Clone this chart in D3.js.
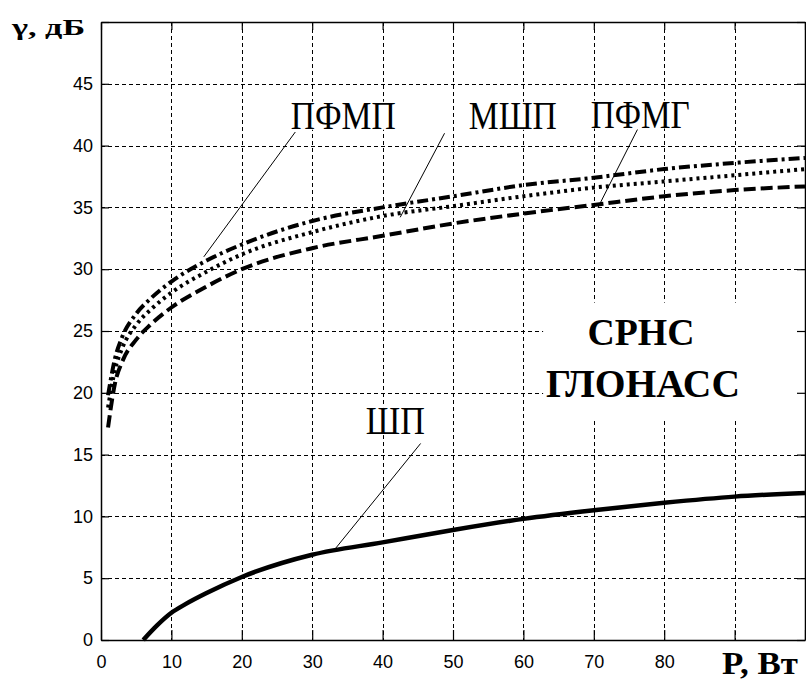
<!DOCTYPE html>
<html>
<head>
<meta charset="utf-8">
<script src="https://cdn.jsdelivr.net/npm/d3@7"></script>
<style>
  body { margin: 0; background: #fff; }
  svg { display: block; }
</style>
</head>
<body>
<script>
// data
var powerUpper = [1, 2, 3, 5, 7, 10, 15, 20, 30, 40, 50, 60, 70, 80, 90, 100];
var pfmp = [19.8, 22.8, 24.5, 26.4, 27.6, 29.0, 30.7, 32.0, 33.9, 35.0, 35.9, 36.8, 37.4, 38.1, 38.6, 39.0];
var mshp = [18.8, 21.9, 23.6, 25.5, 26.7, 28.1, 29.8, 31.2, 33.0, 34.3, 35.1, 35.9, 36.6, 37.1, 37.6, 38.1];
var pfmg = [17.2, 20.8, 22.5, 24.3, 25.5, 26.9, 28.6, 30.0, 31.7, 32.7, 33.7, 34.5, 35.2, 35.9, 36.4, 36.7];
var powerLower = [6, 8, 10, 12, 15, 20, 30, 40, 50, 60, 70, 80, 90, 100];
var shp = [0, 1.2, 2.2, 2.9, 3.8, 5.1, 6.9, 7.9, 8.9, 9.8, 10.5, 11.1, 11.6, 11.9];
var xTicks = [0, 10, 20, 30, 40, 50, 60, 70, 80, 90, 100];
var xTickLabels = ["0", "10", "20", "30", "40", "50", "60", "70", "80", "", ""];
var yTicks = [0, 5, 10, 15, 20, 25, 30, 35, 40, 45, 50];
var yTickLabels = ["0", "5", "10", "15", "20", "25", "30", "35", "40", "45", ""];

var W = 806, H = 682;
var pl = 101, pt = 22, pr = 805, pb = 640;

var svg = d3.select("body").append("svg").attr("width", W).attr("height", H);

var x = d3.scaleLinear().domain([0, 100]).range([pl, pr]);
var y = d3.scaleLinear().domain([0, 50]).range([pb, pt]);

// grid
var grid = svg.append("g").attr("stroke", "#000").attr("stroke-width", 1)
    .attr("stroke-dasharray", "4,3").attr("shape-rendering", "crispEdges");
grid.selectAll("line.vx").data(xTicks.slice(1, -1)).enter().append("line")
    .attr("x1", function(d) { return Math.round(x(d)) + 0.5; })
    .attr("x2", function(d) { return Math.round(x(d)) + 0.5; })
    .attr("y1", pt).attr("y2", pb);
grid.selectAll("line.hy").data(yTicks.slice(1, -1)).enter().append("line")
    .attr("y1", function(d) { return Math.round(y(d)) + 0.5; })
    .attr("y2", function(d) { return Math.round(y(d)) + 0.5; })
    .attr("x1", pl).attr("x2", pr);

// white patch behind the system name
svg.append("rect").attr("x", x(62.8)).attr("y", y(27.3))
    .attr("width", pr - x(62.8)).attr("height", y(17.8) - y(27.3)).attr("fill", "#fff");

// curves
var line = d3.line().curve(d3.curveMonotoneX);
function draw(px, vals, dash, w) {
    svg.append("path")
        .attr("d", line(px.map(function(p, i) { return [x(p), y(vals[i])]; })))
        .attr("fill", "none").attr("stroke", "#000").attr("stroke-width", w)
        .attr("stroke-dasharray", dash);
}
draw(powerUpper, pfmg, "12,5", 4);
draw(powerUpper, mshp, "3,4", 4);
draw(powerUpper, pfmp, "11,4,3,4", 4);
draw(powerLower, shp, null, 4.5);

// axes (box with inward ticks)
svg.append("g").attr("transform", "translate(0," + pb + ")")
    .call(d3.axisBottom(x).tickValues(xTicks).tickSizeInner(-10).tickSizeOuter(0)
        .tickPadding(15).tickFormat(function(d, i) { return xTickLabels[i]; }));
svg.append("g").attr("transform", "translate(0," + pt + ")")
    .call(d3.axisTop(x).tickValues(xTicks).tickSizeInner(-8).tickSizeOuter(0).tickFormat(""));
svg.append("g").attr("transform", "translate(" + pl + ",0)")
    .call(d3.axisLeft(y).tickValues(yTicks).tickSizeInner(-8).tickSizeOuter(0)
        .tickPadding(8).tickFormat(function(d, i) { return yTickLabels[i]; }));
svg.append("g").attr("transform", "translate(" + pr + ",0)")
    .call(d3.axisRight(y).tickValues(yTicks).tickSizeInner(-8).tickSizeOuter(0).tickFormat(""));
svg.selectAll(".domain").attr("stroke", "#000").attr("stroke-width", 1.5);
svg.selectAll(".tick line").attr("stroke", "#000").attr("stroke-width", 1.2);
svg.selectAll(".tick text").attr("fill", "#000")
    .style("font-family", "'Liberation Sans', Arial, sans-serif").style("font-size", "18px");

// pointer lines and curve names
var notes = [
    { t: "ПФМП", tx: 34.4, ty: 41.4, w: 105, x1: 27.6, y1: 41.1, x2: 14.6, y2: 31.0 },
    { t: "МШП", tx: 58.5, ty: 41.4, w: 88, x1: 48.8, y1: 41.0, x2: 42.5, y2: 34.2 },
    { t: "ПФМГ", tx: 76.6, ty: 41.5, w: 99, x1: 76.2, y1: 41.3, x2: 70.6, y2: 35.0 },
    { t: "ШП", tx: 41.8, ty: 16.7, w: 59, x1: 45.4, y1: 15.9, x2: 33.3, y2: 7.4 }
];
notes.forEach(function(n) {
    svg.append("line").attr("x1", x(n.x1)).attr("y1", y(n.y1)).attr("x2", x(n.x2)).attr("y2", y(n.y2))
        .attr("stroke", "#000").attr("stroke-width", 1);
    var cx = x(n.tx), by = y(n.ty) + 0.5;
    svg.append("rect").attr("x", cx - n.w / 2 - 2).attr("y", by - 27).attr("width", n.w + 4).attr("height", 28)
        .attr("fill", "#fff");
    svg.append("text").attr("x", cx).attr("y", by).attr("text-anchor", "middle")
        .attr("textLength", n.w).attr("lengthAdjust", "spacingAndGlyphs")
        .style("font-family", "'Liberation Serif', 'Times New Roman', serif").style("font-size", "39px")
        .text(n.t);
});

var serifBold = "'Liberation Serif', 'Times New Roman', serif";
svg.append("text").attr("x", 641).attr("y", 345).attr("text-anchor", "middle")
    .attr("textLength", 107).attr("lengthAdjust", "spacingAndGlyphs")
    .style("font-family", serifBold).style("font-weight", "bold").style("font-size", "37px").text("СРНС");
svg.append("text").attr("x", 643).attr("y", 397).attr("text-anchor", "middle")
    .attr("textLength", 194).attr("lengthAdjust", "spacingAndGlyphs")
    .style("font-family", serifBold).style("font-weight", "bold").style("font-size", "39px").text("ГЛОНАСС");

// axis titles
svg.append("text").attr("x", 12).attr("y", 35)
    .attr("textLength", 73).attr("lengthAdjust", "spacingAndGlyphs")
    .style("font-family", serifBold).style("font-weight", "bold").style("font-size", "24px").text("γ, дБ");
svg.append("text").attr("x", 722).attr("y", 674)
    .attr("textLength", 76).attr("lengthAdjust", "spacingAndGlyphs")
    .style("font-family", serifBold).style("font-weight", "bold").style("font-size", "32px").text("P, Вт");
</script>
</body>
</html>
